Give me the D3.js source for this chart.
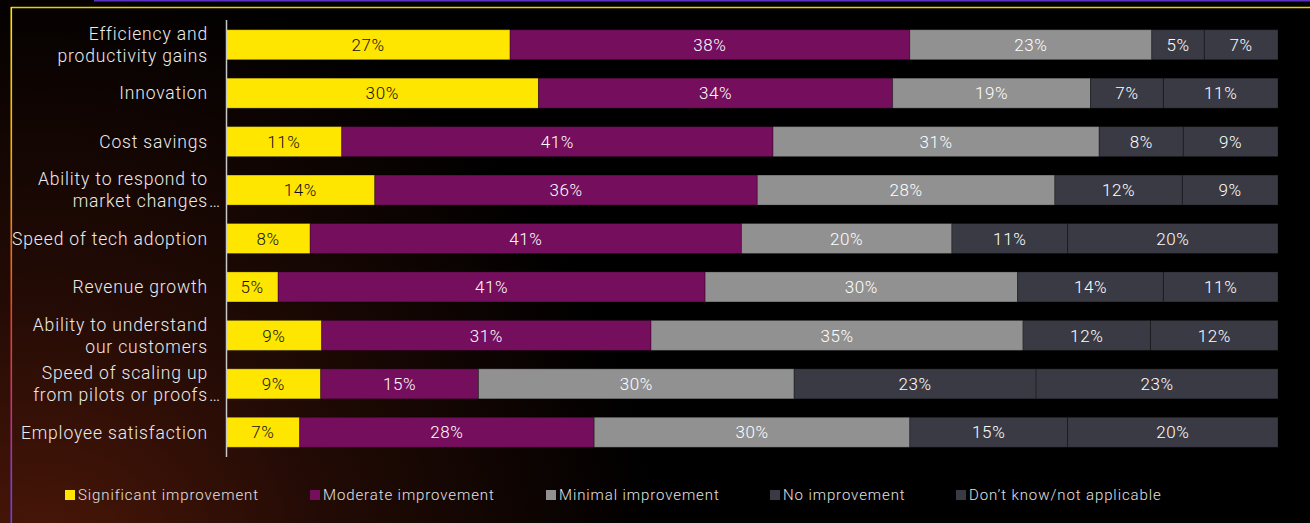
<!DOCTYPE html>
<html>
<head>
<meta charset="utf-8">
<script src="https://cdn.jsdelivr.net/npm/d3@7"></script>
<style>
  html, body { margin: 0; padding: 0; background: #000; }
  svg { display: block; }
  text { font-family: Roboto, "Open Sans", sans-serif; font-weight: 300; }
</style>
</head>
<body>
<svg id="chart" width="1310" height="523"></svg>
<script>
// Survey categories (multi-line labels, "…" marks truncated text)
const categories = [
  ["Efficiency and", "productivity gains"],
  ["Innovation"],
  ["Cost savings"],
  ["Ability to respond to", "market changes…"],
  ["Speed of tech adoption"],
  ["Revenue growth"],
  ["Ability to understand", "our customers"],
  ["Speed of scaling up", "from pilots or proofs…"],
  ["Employee satisfaction"]
];

const seriesNames = [
  "Significant improvement",
  "Moderate improvement",
  "Minimal improvement",
  "No improvement",
  "Don\u2019t know/not applicable"
];

// Percentages per category, one array per response
const significant = [27, 30, 11, 14, 8, 5, 9, 9, 7];
const moderate    = [38, 34, 41, 36, 41, 41, 31, 15, 28];
const minimal     = [23, 19, 31, 28, 20, 30, 35, 30, 30];
const none        = [5, 7, 8, 12, 11, 14, 12, 23, 15];
const dontKnow    = [7, 11, 9, 9, 20, 11, 12, 23, 20];

const colors = ["#FFE600", "#750E5C", "#919191", "#3A3A44", "#3A3A44"];
const labelColors = ["#111", "#fff", "#fff", "#fff", "#fff"];

const width = 1310, height = 523;
const svg = d3.select("#chart");
const defs = svg.append("defs");

// Background glow in the lower-left corner
const bg = defs.append("radialGradient").attr("id", "bgGlow")
  .attr("gradientUnits", "userSpaceOnUse")
  .attr("cx", 40).attr("cy", 580).attr("r", 620);
bg.append("stop").attr("offset", 0).attr("stop-color", "#4e1808");
bg.append("stop").attr("offset", 0.45).attr("stop-color", "#240b05");
bg.append("stop").attr("offset", 1).attr("stop-color", "#000");
svg.append("rect").attr("width", width).attr("height", height).attr("fill", "#000");
svg.append("rect").attr("width", width).attr("height", height).attr("fill", "url(#bgGlow)");

// Frame lines
const edge = defs.append("linearGradient").attr("id", "edgeGrad")
  .attr("gradientUnits", "userSpaceOnUse")
  .attr("x1", 0).attr("y1", 7).attr("x2", 0).attr("y2", 523);
edge.append("stop").attr("offset", 0).attr("stop-color", "#FFE600");
edge.append("stop").attr("offset", 0.35).attr("stop-color", "#f5a000");
edge.append("stop").attr("offset", 0.6).attr("stop-color", "#e8402a");
edge.append("stop").attr("offset", 0.8).attr("stop-color", "#c03080");
edge.append("stop").attr("offset", 0.92).attr("stop-color", "#7a40e0");
edge.append("stop").attr("offset", 1).attr("stop-color", "#6a40f0");

svg.append("line").attr("x1", 94).attr("x2", width).attr("y1", 0.5).attr("y2", 0.5)
  .attr("stroke", "#5a32c8").attr("stroke-width", 2);
svg.append("line").attr("x1", 11).attr("x2", width).attr("y1", 7.5).attr("y2", 7.5)
  .attr("stroke", "#e8cf00").attr("stroke-width", 1.5);
svg.append("rect").attr("x", 10.5).attr("y", 7).attr("width", 1.6).attr("height", height - 7)
  .attr("fill", "url(#edgeGrad)");

// Scales
const x = d3.scaleLinear().domain([0, 1]).range([226, 1278]);
const y = d3.scaleBand().domain(d3.range(categories.length))
  .range([20.5, 456.5]).paddingInner(0.38).paddingOuter(0.19);

// Build rows and normalise each to 100%
const rows = categories.map((c, i) => ({
  i, s0: significant[i], s1: moderate[i], s2: minimal[i], s3: none[i], s4: dontKnow[i]
}));
const keys = ["s0", "s1", "s2", "s3", "s4"];
const stacked = d3.stack().keys(keys).offset(d3.stackOffsetExpand)(rows);

const layers = svg.append("g").selectAll("g").data(stacked).join("g")
  .attr("fill", (d, k) => colors[k]);

layers.selectAll("rect").data(d => d).join("rect")
  .attr("x", d => x(d[0]))
  .attr("y", d => y(d.data.i))
  .attr("width", d => x(d[1]) - x(d[0]))
  .attr("height", y.bandwidth())
  .attr("stroke", "rgba(0,0,0,0.28)")
  .attr("stroke-width", 1);

stacked.forEach((layer, k) => {
  svg.append("g").selectAll("text").data(layer).join("text")
    .attr("x", d => (x(d[0]) + x(d[1])) / 2)
    .attr("y", d => y(d.data.i) + y.bandwidth() / 2)
    .attr("dy", "0.36em")
    .attr("text-anchor", "middle")
    .attr("font-size", 17)
    .attr("letter-spacing", 0.6)
    .attr("fill", labelColors[k])
    .text(d => d.data[keys[k]] + "%");
});

// Category axis line
svg.append("line").attr("x1", 226.5).attr("x2", 226.5).attr("y1", 20).attr("y2", 457)
  .attr("stroke", "#c8c8c8").attr("stroke-width", 1.5);

// Category labels
const labelX = 208, lineH = 22;
const lab = svg.append("g").attr("font-size", 17.5).attr("letter-spacing", 0.85).attr("fill", "#ececec");
categories.forEach((lines, i) => {
  const cy = y(i) + y.bandwidth() / 2;
  lines.forEach((ln, j) => {
    const ty = cy + (j - (lines.length - 1) / 2) * lineH;
    const trunc = ln.endsWith("…");
    const t = trunc ? ln.slice(0, -1) : ln;
    lab.append("text").attr("x", labelX).attr("y", ty).attr("dy", "0.36em")
      .attr("text-anchor", "end").text(t);
    if (trunc) {
      lab.append("text").attr("x", labelX + 1).attr("y", ty).attr("dy", "0.36em")
        .attr("text-anchor", "start").text("…");
    }
  });
});

// Legend
const legendX = [65, 310, 546, 770, 956];
const legend = svg.append("g").attr("font-size", 15).attr("letter-spacing", 0.9).attr("fill", "#e2e2e2");
seriesNames.forEach((name, k) => {
  legend.append("rect").attr("x", legendX[k]).attr("y", 490).attr("width", 10).attr("height", 10)
    .attr("fill", colors[k]);
  legend.append("text").attr("x", legendX[k] + 13).attr("y", 495).attr("dy", "0.36em").text(name);
});
</script>
</body>
</html>
